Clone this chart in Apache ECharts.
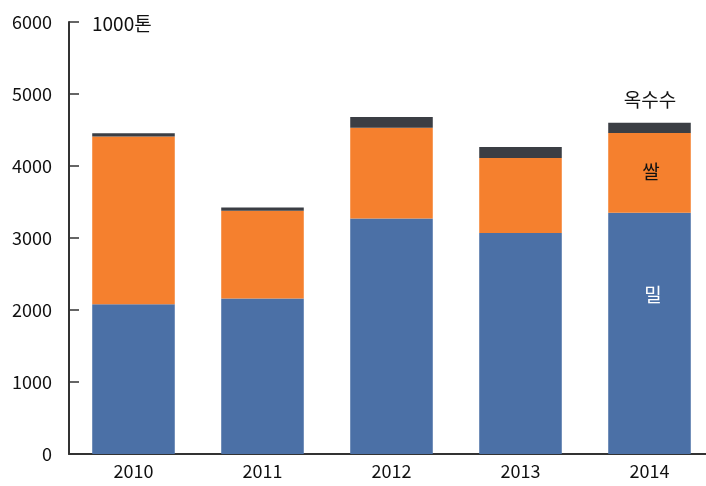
<!DOCTYPE html>
<html><head><meta charset="utf-8">
<script src="https://cdn.jsdelivr.net/npm/echarts@6/dist/echarts.min.js"></script>
<style>html,body{margin:0;padding:0;background:#fff;overflow:hidden}#c{width:714px;height:486px}</style>
</head><body><div id="c"></div>
<script>
const years = ['2010','2011','2012','2013','2014'];
const wheat = [2080, 2160, 3270, 3070, 3350];
const rice = [2330, 1220, 1260, 1040, 1110];
const corn = [45, 45, 150, 155, 140];
const yTicks = [0, 1000, 2000, 3000, 4000, 5000, 6000];
const unitLabel = '1000톤';
const names = ['밀', '쌀', '옥수수'];

const F = '"Noto Sans CJK KR", "Noto Sans", sans-serif';
const chart = echarts.init(document.getElementById('c'));
chart.setOption({
  animation: false,
  grid: { left: 69, right: 0, top: 22, bottom: 32 },
  xAxis: {
    type: 'category', data: years,
    axisLine: { lineStyle: { color: '#333', width: 2 } },
    axisTick: { show: false },
    axisLabel: { color: '#111', fontSize: 18, fontFamily: F, margin: 8 }
  },
  yAxis: {
    type: 'value', min: yTicks[0], max: yTicks[yTicks.length - 1], interval: 1000,
    axisLine: { show: true, lineStyle: { color: '#333', width: 2 } },
    axisTick: { show: true, inside: true, length: 10, lineStyle: { color: '#333', width: 1.5 } },
    splitLine: { show: false },
    axisLabel: { color: '#111', fontSize: 18, fontFamily: F, margin: 17, formatter: v => String(v) }
  },
  series: [
    { name: names[0], type: 'bar', stack: 's', data: wheat, barCategoryGap: '36%', itemStyle: { color: '#4b70a6' } },
    { name: names[1], type: 'bar', stack: 's', data: rice, itemStyle: { color: '#f5802e' } },
    { name: names[2], type: 'bar', stack: 's', data: corn, itemStyle: { color: '#3b3e44' } }
  ],
  graphic: [
    { type: 'text', z: 100, left: 92, top: 14, style: { text: unitLabel, fontSize: 19, fontFamily: F, fill: '#111' } },
    { type: 'text', z: 100, x: 650, y: 100, style: { text: names[2], fontSize: 19, fontFamily: F, fill: '#111', align: 'center', verticalAlign: 'middle' } },
    { type: 'text', z: 100, x: 651, y: 172, style: { text: names[1], fontSize: 19, fontFamily: F, fill: '#111', align: 'center', verticalAlign: 'middle' } },
    { type: 'text', z: 100, x: 653, y: 295, style: { text: names[0], fontSize: 19, fontFamily: F, fill: '#fff', align: 'center', verticalAlign: 'middle' } }
  ]
});
</script></body></html>
